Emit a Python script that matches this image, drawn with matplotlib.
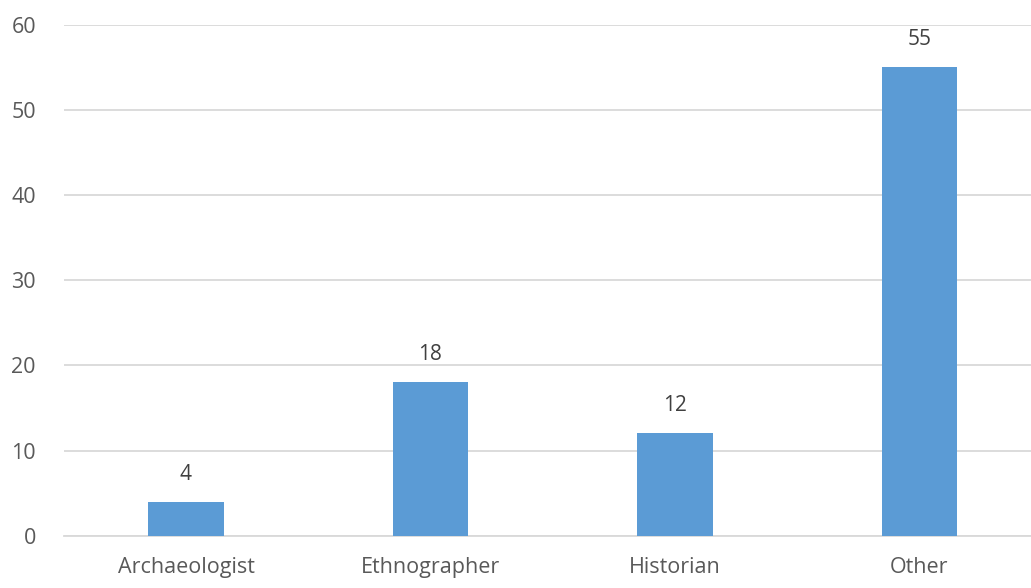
import matplotlib
matplotlib.use("Agg")
import matplotlib.pyplot as plt

# data
categories = ["Archaeologist", "Ethnographer", "Historian", "Other"]
counts = [4, 18, 12, 55]
y_ticks = [0, 10, 20, 30, 40, 50, 60]

plt.rcParams['font.family'] = ['Open Sans', 'DejaVu Sans']

fig = plt.figure(figsize=(10.31, 5.88), dpi=100)
# plot area runs slightly past the right edge, like the cropped original
ax = fig.add_axes([0.0618, 0.0889, 0.9486, 0.8694])

x = range(len(categories))
bars = ax.bar(x, counts, width=0.31, color="#5B9BD5", zorder=3)

for rect, val in zip(bars, counts):
    ax.text(rect.get_x() + rect.get_width() / 2, val + 2.0, str(val),
            ha="center", va="bottom", fontsize=15, color="#404040")

ax.set_xlim(-0.5, len(categories) - 0.5)
ax.set_ylim(0, 60)
ax.set_yticks(y_ticks)
ax.set_xticks(list(x))
ax.set_xticklabels(categories)

ax.grid(axis="y", color="#D9D9D9", linewidth=1.3, zorder=0)
for s in ["top", "right", "left"]:
    ax.spines[s].set_visible(False)
ax.spines["bottom"].set_color("#D9D9D9")
ax.spines["bottom"].set_linewidth(1.3)

ax.tick_params(axis="both", length=0, labelsize=15.5, labelcolor="#595959")
ax.tick_params(axis="y", pad=20)
ax.tick_params(axis="x", pad=15)

fig.savefig("out.png", dpi=100)
